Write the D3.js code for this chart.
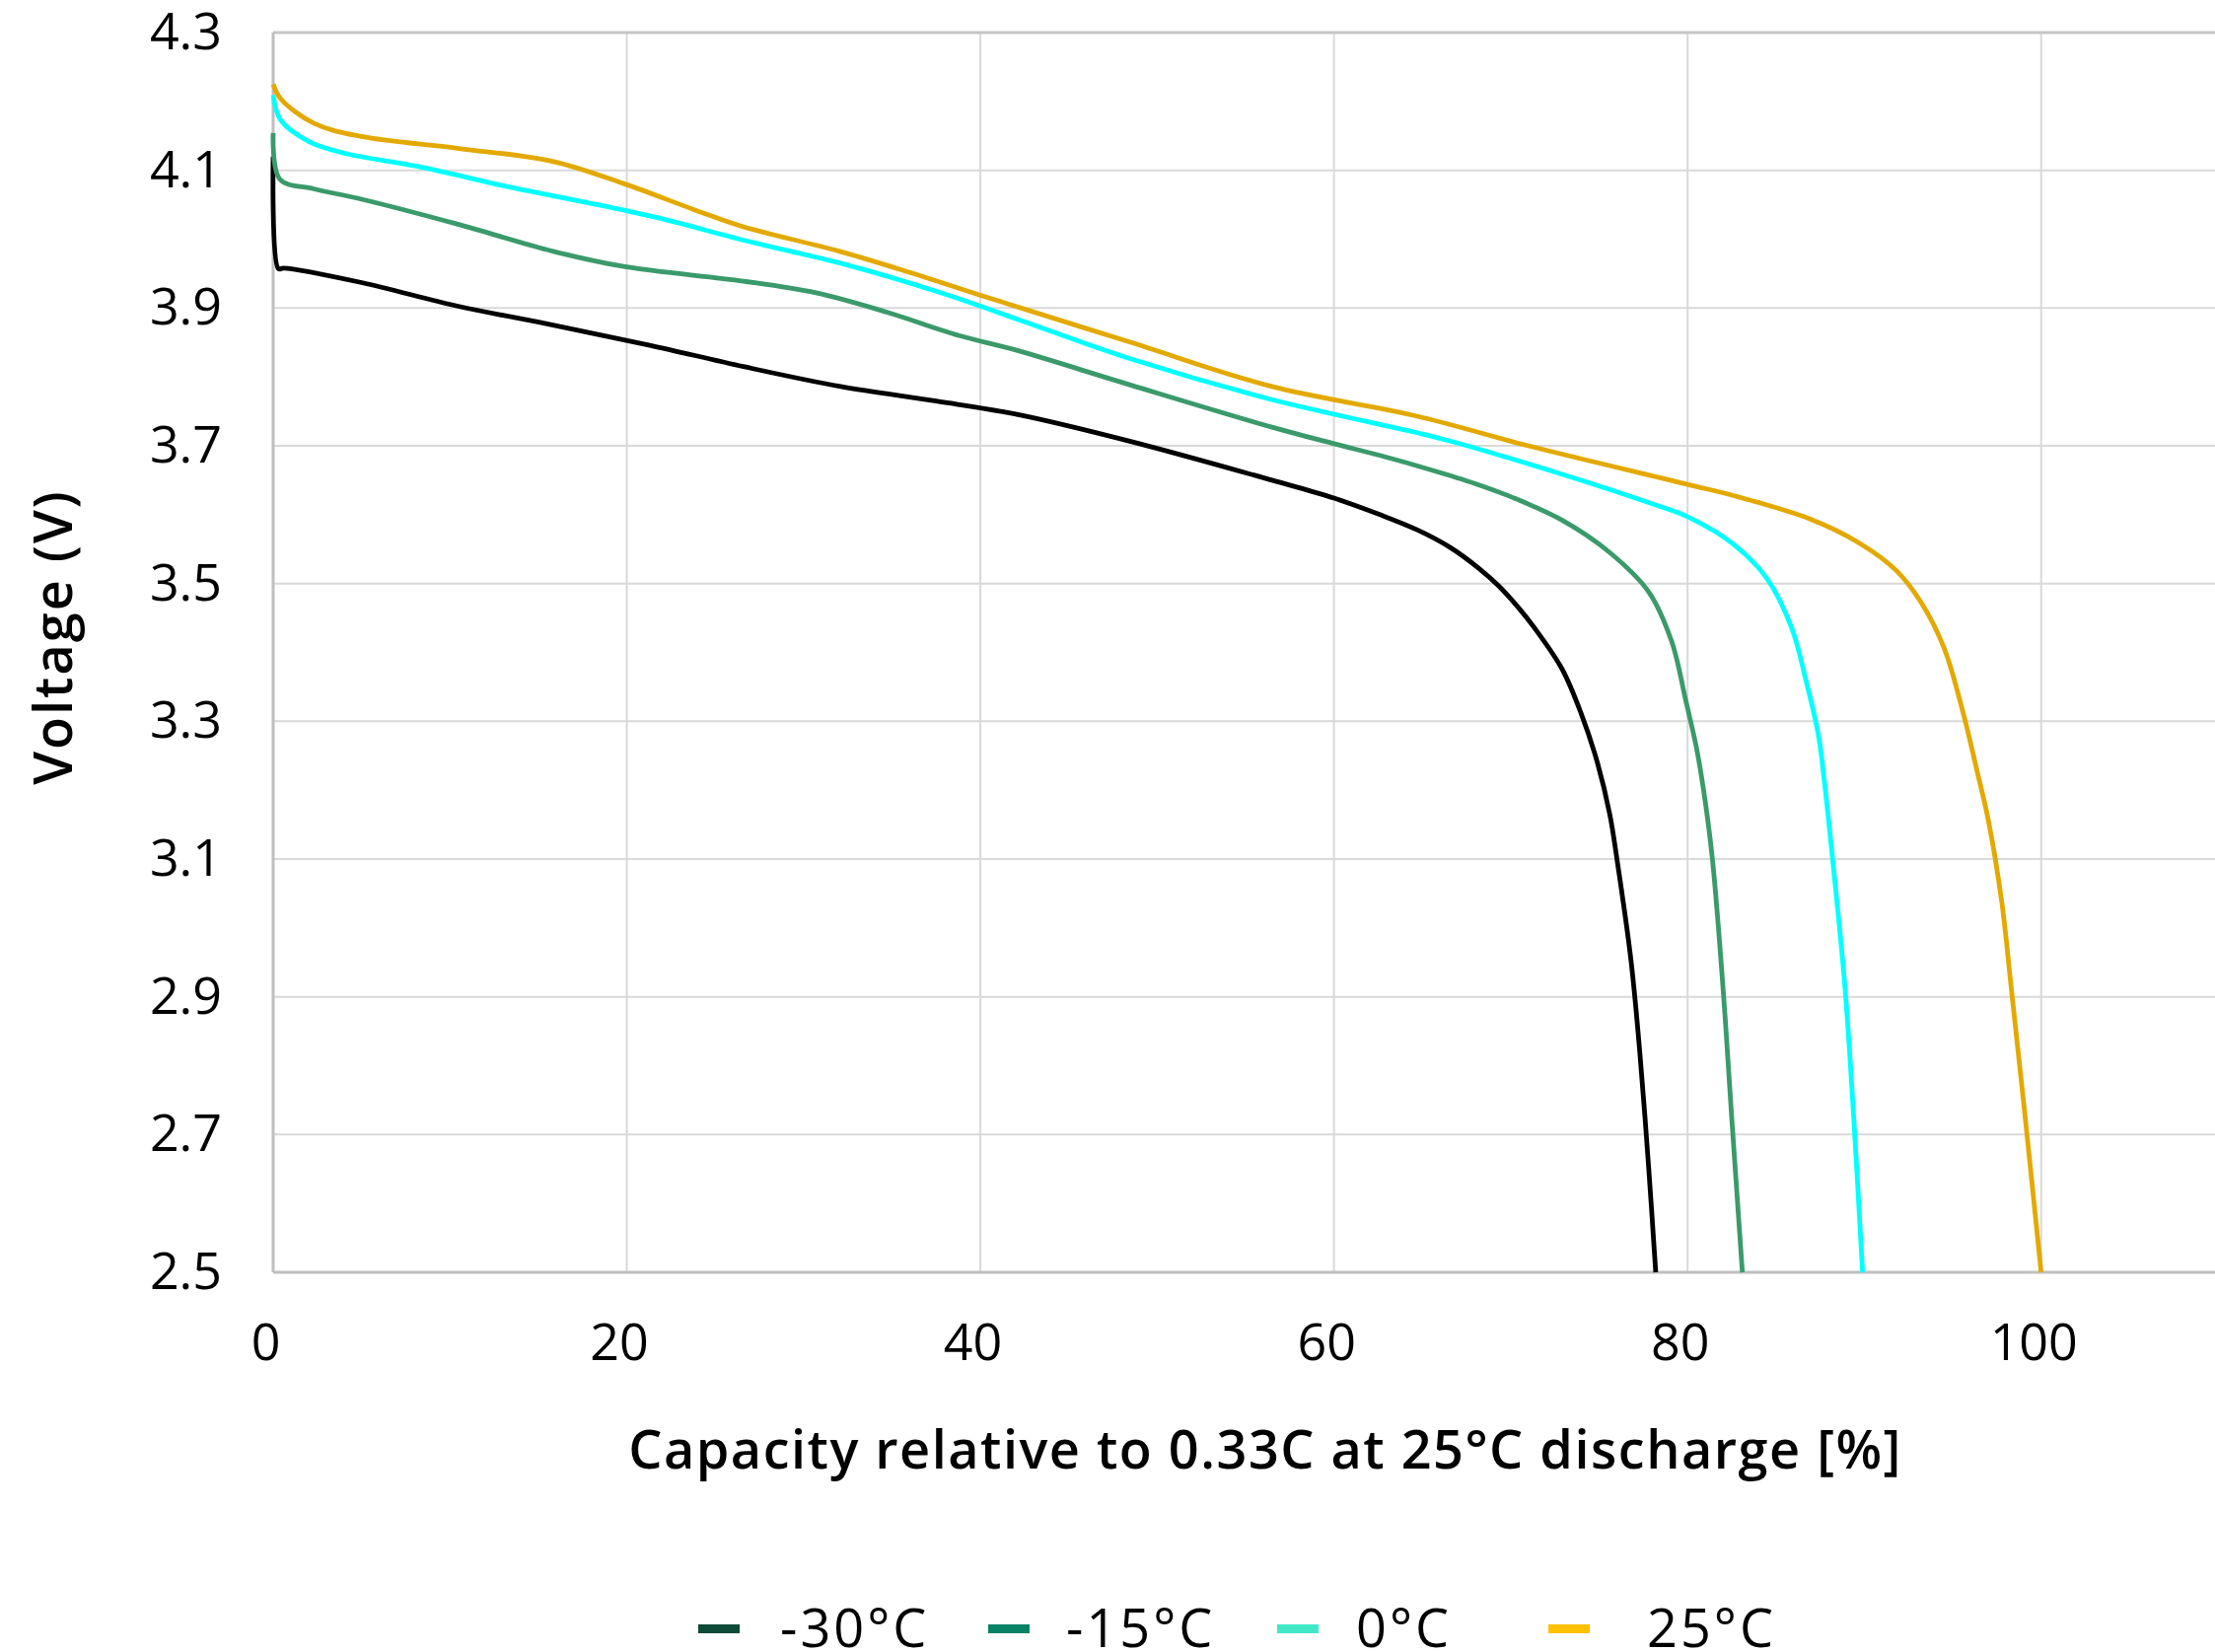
<!DOCTYPE html>
<html>
<head>
<meta charset="utf-8">
<script src="https://cdn.jsdelivr.net/npm/d3@7"></script>
<style>
  body { margin: 0; background: #fff; }
  text { font-family: "Open Sans", sans-serif; fill: #000; }
</style>
</head>
<body>
<div id="chart"></div>
<script>
// Discharge curves at different temperatures

// Data: capacity [%] and voltage [V]
let series = ["-30°C", "-15°C", "0°C", "25°C"]

let capM30 = [0, 0.3, 0.6, 5.0, 10.4, 15.9, 21.3, 26.6, 32.1, 37.5, 42.0, 48.4, 56.5, 60.0, 62.6, 64.7, 66.6, 68.2, 69.3, 70.4, 71.3, 72.9, 74.0, 74.9, 75.6, 76.0, 76.8, 77.3, 77.8, 78.2]
let voltM30 = [4.120, 3.957, 3.958, 3.937, 3.903, 3.875, 3.846, 3.815, 3.786, 3.765, 3.746, 3.707, 3.650, 3.624, 3.600, 3.578, 3.552, 3.522, 3.497, 3.466, 3.437, 3.376, 3.310, 3.240, 3.165, 3.101, 2.953, 2.819, 2.652, 2.500]

let capM15 = [0, 0.38, 2.3, 5.0, 10.4, 15.9, 19.9, 26.6, 30.7, 34.7, 38.8, 42.0, 48.4, 56.5, 60.0, 62.6, 65.5, 68.0, 70.1, 72.9, 75.6, 77.8, 79.1, 79.9, 80.5, 80.9, 81.4, 82.0, 82.5, 83.1]
let voltM15 = [4.154, 4.087, 4.073, 4.058, 4.022, 3.982, 3.960, 3.939, 3.922, 3.894, 3.860, 3.839, 3.789, 3.727, 3.703, 3.686, 3.665, 3.645, 3.625, 3.592, 3.545, 3.488, 3.416, 3.330, 3.262, 3.201, 3.101, 2.915, 2.724, 2.500]

let cap0 = [0, 0.42, 2.0, 4.0, 8.1, 13.5, 17.6, 21.6, 27.0, 32.4, 37.8, 42.3, 48.4, 56.5, 64.7, 66.7, 73.1, 78.2, 80.0, 82.6, 84.5, 85.9, 86.7, 87.4, 87.75, 88.2, 88.9, 89.4, 89.9]
let volt0 = [4.209, 4.173, 4.142, 4.125, 4.106, 4.075, 4.054, 4.032, 3.996, 3.963, 3.922, 3.882, 3.827, 3.767, 3.719, 3.706, 3.657, 3.614, 3.597, 3.557, 3.507, 3.435, 3.359, 3.280, 3.210, 3.101, 2.915, 2.724, 2.500]

let cap25 = [0, 0.42, 2.32, 5.0, 10.4, 15.8, 19.9, 23.9, 26.6, 32.1, 36.1, 40.2, 48.4, 56.5, 64.7, 71.0, 80.0, 82.7, 87.0, 89.7, 91.8, 93.2, 94.5, 95.6, 96.4, 97.0, 97.77, 98.3, 99.1, 100.0]
let volt25 = [4.225, 4.204, 4.168, 4.149, 4.132, 4.113, 4.080, 4.042, 4.018, 3.982, 3.951, 3.917, 3.851, 3.786, 3.743, 3.700, 3.644, 3.627, 3.593, 3.559, 3.519, 3.473, 3.407, 3.311, 3.225, 3.158, 3.038, 2.915, 2.724, 2.500]

let xTicks = [0, 20, 40, 60, 80, 100]
let yTicks = [2.5, 2.7, 2.9, 3.1, 3.3, 3.5, 3.7, 3.9, 4.1, 4.3]

// Styles
let lineColors = ["#000000", "#3a9a6a", "#00ffff", "#e3a900"]
let legendColors = ["#0d4a38", "#0a8266", "#40e8c8", "#ffc000"]

let builder = function() {
  let width = 2246,
      height = 1675,
      left = 277,
      top = 33,
      bottom = 1290

  let svg = d3.select("#chart").append("svg")
      .attr("width", width)
      .attr("height", height)

  let x = d3.scaleLinear().domain([0, 110]).range([left, 2249])
  let y = d3.scaleLinear().domain([2.5, 4.3]).range([bottom, top])

  // Lưới
  svg.append("g").selectAll("line").data(yTicks.slice(1, -1)).enter().append("line")
      .attr("x1", left).attr("x2", width)
      .attr("y1", d => y(d)).attr("y2", d => y(d))
      .attr("stroke", "#d9d9d9").attr("stroke-width", 2)

  svg.append("g").selectAll("line").data(xTicks.slice(1)).enter().append("line")
      .attr("x1", d => x(d)).attr("x2", d => x(d))
      .attr("y1", top).attr("y2", bottom)
      .attr("stroke", "#d9d9d9").attr("stroke-width", 2)

  // Khung
  svg.append("line").attr("x1", left).attr("x2", width).attr("y1", top).attr("y2", top)
      .attr("stroke", "#c6c6c6").attr("stroke-width", 3)
  svg.append("line").attr("x1", left).attr("x2", width).attr("y1", bottom).attr("y2", bottom)
      .attr("stroke", "#bfbfbf").attr("stroke-width", 3)
  svg.append("line").attr("x1", left).attr("x2", left).attr("y1", top).attr("y2", bottom)
      .attr("stroke", "#bfbfbf").attr("stroke-width", 3)

  // Trục
  let axisY = d3.axisLeft(y).tickValues(yTicks).tickSize(0).tickPadding(52)
      .tickFormat(d3.format(".1f"))
  let gy = svg.append("g").attr("transform", `translate(${left},0)`).call(axisY)
  gy.select(".domain").remove()
  gy.selectAll("text").attr("font-size", 52).attr("font-family", "Open Sans")
      .attr("font-weight", 500).attr("fill", "#000")

  let axisX = d3.axisBottom(x).tickValues(xTicks).tickSize(0).tickPadding(52)
  let gx = svg.append("g").attr("transform", `translate(-8,${bottom})`).call(axisX)
  gx.select(".domain").remove()
  gx.selectAll("text").attr("font-size", 52).attr("font-family", "Open Sans")
      .attr("font-weight", 500).attr("fill", "#000")

  // Đường cong
  let caps = [capM30, capM15, cap0, cap25],
      volts = [voltM30, voltM15, volt0, volt25]
  let lineData = series.map((s, i) => caps[i].map((c, j) => [c, volts[i][j]]))

  let line = d3.line()
      .x(d => x(d[0]))
      .y(d => y(d[1]))
      .curve(d3.curveCatmullRom.alpha(0.5))

  svg.append("g").selectAll("path").data(lineData).enter().append("path")
      .attr("d", line)
      .attr("fill", "none")
      .attr("stroke", (d, i) => lineColors[i])
      .attr("stroke-width", 4.8)
      .attr("stroke-linejoin", "round")

  // Tiêu đề trục
  svg.append("text")
      .attr("transform", "translate(73,646) rotate(-90)")
      .attr("text-anchor", "middle")
      .attr("font-size", 54)
      .attr("font-weight", 600)
      .attr("letter-spacing", 2)
      .text("Voltage (V)")

  svg.append("text")
      .attr("x", 1283)
      .attr("y", 1489)
      .attr("text-anchor", "middle")
      .attr("font-size", 54)
      .attr("font-weight", 600)
      .attr("letter-spacing", 1.5)
      .text("Capacity relative to 0.33C at 25°C discharge [%]")

  // Chú thích
  let legendX = [708, 1002, 1295, 1570],
      labelX = [791, 1081, 1375, 1670]
  let legend = svg.append("g").selectAll("g").data(series).enter().append("g")

  legend.append("rect")
      .attr("x", (d, i) => legendX[i])
      .attr("y", 1647)
      .attr("width", 42)
      .attr("height", 9)
      .attr("fill", (d, i) => legendColors[i])

  legend.append("text")
      .attr("x", (d, i) => labelX[i])
      .attr("y", 1670)
      .attr("font-size", 54)
      .attr("font-weight", 500)
      .attr("letter-spacing", 3)
      .text(d => d)
}

builder()
</script>
</body>
</html>
